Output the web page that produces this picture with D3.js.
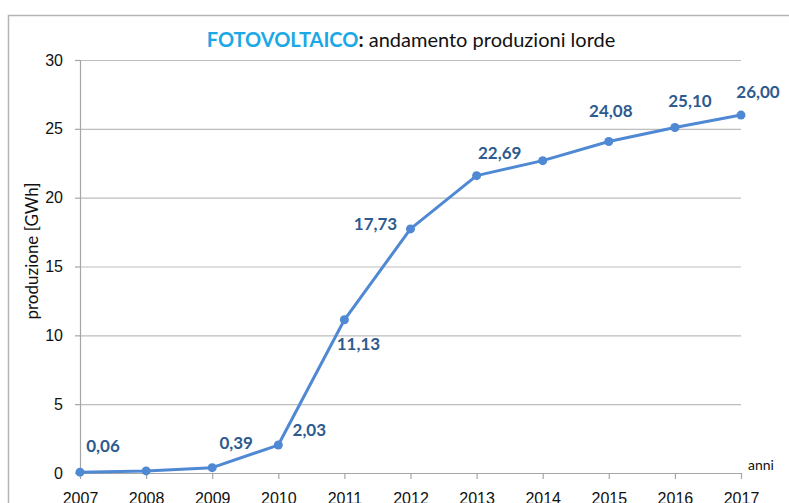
<!DOCTYPE html>
<html>
<head>
<meta charset="utf-8">
<script src="https://cdn.jsdelivr.net/npm/d3@7"></script>
<style>
  body { margin: 0; background: #fff; }
  svg { display: block; font-family: Lato, "Open Sans", sans-serif; }
</style>
</head>
<body>
<div id="chart"></div>
<script>
// Data
const years = [2007, 2008, 2009, 2010, 2011, 2012, 2013, 2014, 2015, 2016, 2017];
const production = [0.06, 0.15, 0.39, 2.03, 11.13, 17.73, 21.6, 22.69, 24.08, 25.10, 26.00];
const valueLabels = ["0,06", null, "0,39", "2,03", "11,13", "17,73", null, "22,69", "24,08", "25,10", "26,00"];
const yTicks = [0, 5, 10, 15, 20, 25, 30];

// Label placement relative to its point (dx, dy of text centre)
const labelOffset = {
  2007: [23, -26], 2009: [24, -25], 2010: [31, -15], 2011: [14, 24],
  2012: [-35, -5], 2014: [-43, -8], 2015: [2, -30], 2016: [15, -26], 2017: [17, -23]
};

const width = 789, height = 503;
const plot = {left: 80, right: 741, top: 60, bottom: 473};

const svg = d3.select("#chart")
  .append("svg")
  .attr("width", width)
  .attr("height", height);

// outer frame of the chart area (cropped)
svg.append("path")
  .attr("d", `M8.5,${height} L8.5,15.5 L${width},15.5`)
  .attr("fill", "none")
  .attr("stroke", "#b4b4b4")
  .attr("stroke-width", 1.5);

const x = d3.scalePoint()
  .domain(years)
  .range([plot.left, plot.right]);

const y = d3.scaleLinear()
  .domain([0, 30])
  .range([plot.bottom, plot.top]);

// Gridlines
svg.append("g")
  .attr("transform", `translate(${plot.left},0)`)
  .call(d3.axisLeft(y).tickValues(yTicks.slice(1)).tickSize(-(plot.right - plot.left)).tickFormat(""))
  .call(g => g.select(".domain").remove())
  .selectAll("line")
  .attr("stroke", "#bdbdbd")
  .attr("stroke-width", 1.2);

// Y axis
const yAxis = svg.append("g")
  .attr("transform", `translate(${plot.left},0)`)
  .call(d3.axisLeft(y).tickValues(yTicks).tickSize(5).tickPadding(12));
yAxis.select(".domain").attr("stroke", "#a6a6a6").attr("stroke-width", 1.2);
yAxis.selectAll("line").attr("stroke", "#a6a6a6").attr("stroke-width", 1.2);
yAxis.selectAll("text")
  .attr("fill", "#111")
  .style("font-size", "16px");

// X axis
const xAxis = svg.append("g")
  .attr("transform", `translate(0,${plot.bottom})`)
  .call(d3.axisBottom(x).tickSize(6).tickSizeOuter(0));
xAxis.select(".domain").attr("stroke", "#a6a6a6").attr("stroke-width", 1.2);
xAxis.selectAll("line").attr("stroke", "#a6a6a6").attr("stroke-width", 1.2);
xAxis.selectAll("text")
  .attr("y", 31)
  .attr("dy", 0)
  .attr("fill", "#111")
  .style("font-size", "16px");

// Axis titles
svg.append("text")
  .attr("transform", "translate(38,251) rotate(-90)")
  .attr("text-anchor", "middle")
  .attr("fill", "#111")
  .style("font-size", "17px")
  .text("produzione [GWh]");

svg.append("text")
  .attr("x", 748)
  .attr("y", 470)
  .attr("fill", "#111")
  .style("font-size", "14px")
  .text("anni");

// Title
const title = svg.append("text")
  .attr("x", 411)
  .attr("y", 47)
  .attr("text-anchor", "middle")
  .style("font-size", "20px")
  .attr("fill", "#111");
title.append("tspan")
  .attr("fill", "#1aa8e6")
  .style("font-weight", "bold")
  .text("FOTOVOLTAICO");
title.append("tspan")
  .style("font-weight", "bold")
  .text(":");
title.append("tspan")
  .text(" andamento produzioni lorde");

// Line
const points = years.map((yr, i) => ({year: yr, value: production[i], label: valueLabels[i]}));

svg.append("path")
  .datum(points)
  .attr("fill", "none")
  .attr("stroke", "#4f88d3")
  .attr("stroke-width", 3)
  .attr("stroke-linejoin", "round")
  .attr("d", d3.line().x(d => x(d.year)).y(d => y(d.value)));

svg.selectAll(".dot")
  .data(points)
  .enter()
  .append("circle")
  .attr("class", "dot")
  .attr("cx", d => x(d.year))
  .attr("cy", d => y(d.value))
  .attr("r", 4.5)
  .attr("fill", "#4f88d3");

// Value labels
svg.selectAll(".value-label")
  .data(points.filter(d => d.label))
  .enter()
  .append("text")
  .attr("class", "value-label")
  .attr("x", d => x(d.year) + labelOffset[d.year][0])
  .attr("y", d => y(d.value) + labelOffset[d.year][1])
  .attr("dy", "0.35em")
  .attr("text-anchor", "middle")
  .attr("fill", "#2e5b8f")
  .style("font-size", "17px")
  .style("font-weight", "bold")
  .text(d => d.label);
</script>
</body>
</html>
